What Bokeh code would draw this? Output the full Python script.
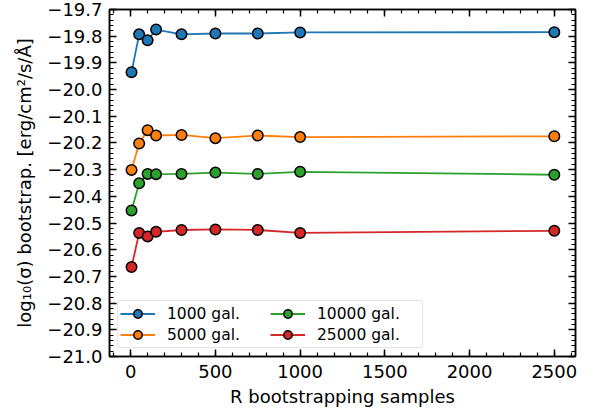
from bokeh.plotting import figure
from bokeh.models import (LinearAxis, SingleIntervalTicker, CustomJSTickFormatter,
                          Range1d, Legend)
from bokeh.embed import file_html
from bokeh.resources import INLINE

# ---- data ----
r_samples = [5, 50, 100, 150, 300, 500, 750, 1000, 2500]
series_labels = ["1000 gal.", "5000 gal.", "10000 gal.", "25000 gal."]
sigma_1000 = [-19.935, -19.793, -19.815, -19.775, -19.793, -19.790, -19.790, -19.786, -19.785]
sigma_5000 = [-20.301, -20.202, -20.152, -20.172, -20.170, -20.182, -20.172, -20.178, -20.175]
sigma_10000 = [-20.453, -20.351, -20.316, -20.317, -20.316, -20.311, -20.316, -20.308, -20.319]
sigma_25000 = [-20.665, -20.537, -20.550, -20.533, -20.526, -20.524, -20.526, -20.537, -20.529]
colors = ["#1f77b4", "#ff7f0e", "#2ca02c", "#d62728"]

FONT = "DejaVu Sans"

p = figure(width=595, height=416, output_backend="svg", toolbar_location=None,
           x_range=Range1d(-125, 2625), y_range=Range1d(-21.0, -19.7),
           min_border_left=109, min_border_right=20, min_border_top=9,
           min_border_bottom=60)
p.background_fill_color = "white"
p.border_fill_color = "white"
p.outline_line_color = "black"
p.outline_line_width = 1.5
p.xgrid.visible = False
p.ygrid.visible = False

minus_fmt = CustomJSTickFormatter(code="return tick.toFixed(1).replace('-', '\u2212');")
int_fmt = CustomJSTickFormatter(code="return tick.toFixed(0);")
empty_fmt = CustomJSTickFormatter(code="return '';")

def style_axis(ax):
    ax.axis_line_color = "black"
    ax.axis_line_width = 1.5
    ax.major_tick_in = 7
    ax.major_tick_out = 0
    ax.minor_tick_in = 4
    ax.minor_tick_out = 0
    ax.major_tick_line_width = 1.5
    ax.minor_tick_line_width = 1.2
    ax.major_label_text_font = FONT
    ax.major_label_text_font_size = "18px"
    ax.major_label_text_color = "black"
    ax.axis_label_text_font = FONT
    ax.axis_label_text_font_size = "18px"
    ax.axis_label_text_font_style = "normal"
    ax.axis_label_text_color = "black"

xax = p.xaxis[0]
yax = p.yaxis[0]
xax.ticker = SingleIntervalTicker(interval=500, num_minor_ticks=5)
yax.ticker = SingleIntervalTicker(interval=0.1, num_minor_ticks=5)
xax.formatter = int_fmt
yax.formatter = minus_fmt
style_axis(xax)
style_axis(yax)
xax.axis_label = "R bootstrapping samples"
yax.axis_label = "log\u2081\u2080(\u03c3) bootstrap. [erg/cm\u00b2/s/\u00c5]"
xax.major_label_standoff = 8
yax.major_label_standoff = 7
xax.axis_label_standoff = 5
yax.axis_label_standoff = 9

top = LinearAxis(ticker=SingleIntervalTicker(interval=500, num_minor_ticks=5),
                 formatter=empty_fmt)
right = LinearAxis(ticker=SingleIntervalTicker(interval=0.1, num_minor_ticks=5),
                   formatter=empty_fmt)
for ax in (top, right):
    style_axis(ax)
    ax.major_label_standoff = 0
    ax.major_label_text_font_size = "1px"
p.add_layout(top, "above")
p.add_layout(right, "right")

all_series = [sigma_1000, sigma_5000, sigma_10000, sigma_25000]
items = []
for lab, ys, c in zip(series_labels, all_series, colors):
    ln = p.line(r_samples, ys, line_color=c, line_width=1.8)
    sc = p.scatter(r_samples, ys, size=10.5, fill_color=c, line_color="black",
                   line_width=1.5)
    items.append((lab, [ln, sc]))

legend = Legend(items=items, location=(8, 8), orientation="vertical", ncols=2)
legend.label_text_font = FONT
legend.label_text_font_size = "15.5px"
legend.label_text_color = "black"
legend.glyph_width = 35
legend.glyph_height = 21
legend.label_height = 21
legend.label_width = 103
legend.label_standoff = 12
legend.spacing = 0
legend.padding = 2
legend.margin = 0
legend.border_line_color = "#cccccc"
legend.border_line_width = 1
legend.border_radius = 4
legend.background_fill_alpha = 0.8
p.add_layout(legend, "center")

open("out.html", "w").write(file_html(p, INLINE))
